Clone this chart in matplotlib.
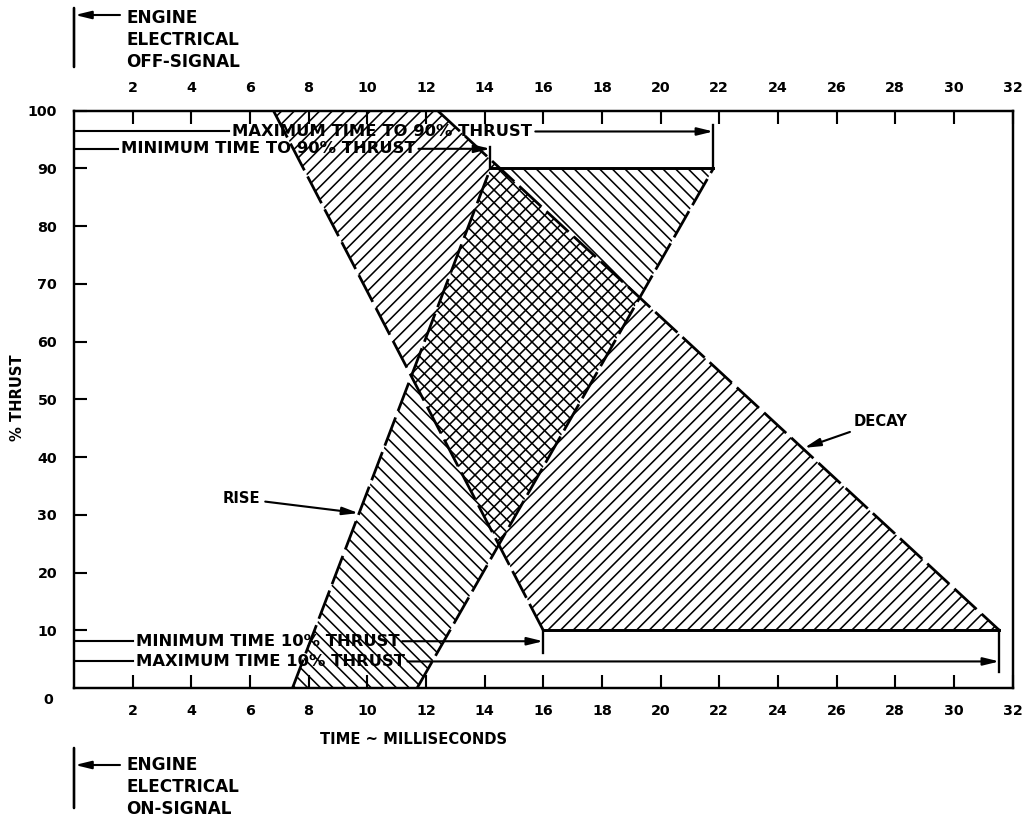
import matplotlib
matplotlib.use("Agg")
import matplotlib.pyplot as plt

W, H, DPI = 1024, 818, 76

# thrust envelopes: % thrust vs time (ms) for the fastest and slowest engine
rise_thrust = [0, 90]
rise_fast = [7.45, 14.2]
rise_slow = [11.7, 21.8]

decay_thrust = [100, 10]
decay_fast = [6.8, 16.0]
decay_slow = [12.4, 31.55]

x_ticks = list(range(2, 33, 2))
y_ticks = list(range(10, 101, 10))

plt.rcParams['font.family'] = ['DejaVu Sans']
plt.rcParams['font.weight'] = 'bold'
plt.rcParams['hatch.linewidth'] = 1.5
plt.rcParams['hatch.color'] = 'black'

fig = plt.figure(figsize=(W / DPI, H / DPI), dpi=DPI)
ax = fig.add_axes([74 / W, 1 - 688 / H, (1012.5 - 74) / W, (688 - 110.7) / H])
ax.set_xlim(0, 32)
ax.set_ylim(0, 100)

for side in ax.spines.values():
    side.set_linewidth(2.3)

ax.set_xticks(x_ticks)
ax.set_yticks(y_ticks)
ax.tick_params(axis='both', direction='in', length=12.5, width=2, labelsize=13.5)
ax.tick_params(axis='x', top=True, labeltop=True, pad=15)
ax.tick_params(axis='y', pad=16)
ax.annotate('0', xy=(0, 0), xytext=(-24, -11), textcoords='offset points',
            ha='center', va='center', fontsize=13.5)

# hatched bands; where they overlap the two hatches cross
ax.fill_betweenx(rise_thrust, rise_fast, rise_slow, facecolor='none',
                 edgecolor='black', linewidth=0, hatch='\\\\')
ax.fill_betweenx(decay_thrust, decay_fast, decay_slow, facecolor='none',
                 edgecolor='black', linewidth=0, hatch='//')

for xs, ys in [(rise_fast, rise_thrust), (rise_slow, rise_thrust),
               (decay_fast, decay_thrust), (decay_slow, decay_thrust)]:
    ax.plot(xs, ys, color='black', lw=2.6, dashes=(11, 2.5), solid_capstyle='butt')

t90_min, t90_max = rise_fast[-1], rise_slow[-1]
t10_min, t10_max = decay_fast[-1], decay_slow[-1]

# brackets at 90 % and 10 %
ax.plot([t90_min, t90_max], [90, 90], color='black', lw=2.8)
ax.plot([t90_min, t90_min], [90, 93.7], color='black', lw=2.2)
ax.plot([t90_max, t90_max], [90, 97.6], color='black', lw=2.2)
ax.plot([t10_min, t10_max], [10, 10], color='black', lw=2.8)
ax.plot([t10_min, t10_min], [10, 6.1], color='black', lw=2.2)
ax.plot([t10_max, t10_max], [10, 2.8], color='black', lw=2.2)

fig.canvas.draw()
renderer = fig.canvas.get_renderer()
inv = ax.transData.inverted()
arrow_style = '-|>,head_length=0.9,head_width=0.22'


def time_arrow(y, x_text, label, x_end):
    t = ax.text(x_text, y, label, ha='left', va='center', fontsize=15.5)
    box = t.get_window_extent(renderer)
    left = inv.transform((box.x0, 0))[0]
    right = inv.transform((box.x1, 0))[0]
    ax.plot([0, left - 0.1], [y, y], color='black', lw=2)
    ax.annotate('', xy=(x_end, y), xytext=(right + 0.1, y),
                arrowprops=dict(arrowstyle=arrow_style, color='black', lw=2,
                                mutation_scale=14, shrinkA=0, shrinkB=0))


time_arrow(96.4, 5.4, 'MAXIMUM TIME TO 90% THRUST', t90_max)
time_arrow(93.4, 1.6, 'MINIMUM TIME TO 90% THRUST', t90_min)
time_arrow(8.1, 2.1, 'MINIMUM TIME 10% THRUST', t10_min)
time_arrow(4.6, 2.1, 'MAXIMUM TIME 10% THRUST', t10_max)

ax.annotate('RISE', xy=(9.7, 30.3), xytext=(5.7, 32.8), ha='center', va='center',
            fontsize=14,
            arrowprops=dict(arrowstyle=arrow_style, color='black', lw=2,
                            mutation_scale=14, shrinkA=3, shrinkB=0))
ax.annotate('DECAY', xy=(24.9, 41.6), xytext=(27.5, 46.2), ha='center', va='center',
            fontsize=14,
            arrowprops=dict(arrowstyle=arrow_style, color='black', lw=2,
                            mutation_scale=14, shrinkA=3, shrinkB=0))

fig.text(18 / W, 1 - 398 / H, '% THRUST', rotation=90, ha='center', va='center',
         fontsize=14)
fig.text(320 / W, 1 - 740 / H, 'TIME ~ MILLISECONDS', ha='left', va='center',
         fontsize=14)

# engine signal markers above and below the plot
for y_bar, y_arrow, y_text, label in [
        ((8, 67), 15, 40, 'ENGINE\nELECTRICAL\nOFF-SIGNAL'),
        ((748, 808), 765, 787, 'ENGINE\nELECTRICAL\nON-SIGNAL')]:
    ax.annotate('', xy=(74, H - y_bar[0]), xytext=(74, H - y_bar[1]),
                xycoords='figure pixels', textcoords='figure pixels',
                arrowprops=dict(arrowstyle='-', color='black', lw=2.5,
                                shrinkA=0, shrinkB=0))
    ax.annotate('', xy=(75, H - y_arrow), xytext=(120, H - y_arrow),
                xycoords='figure pixels', textcoords='figure pixels',
                arrowprops=dict(arrowstyle=arrow_style, color='black', lw=2,
                                mutation_scale=14, shrinkA=0, shrinkB=0))
    fig.text(126 / W, 1 - y_text / H, label, ha='left', va='center',
             fontsize=16, linespacing=1.3)

fig.savefig('out.png', dpi=DPI)
